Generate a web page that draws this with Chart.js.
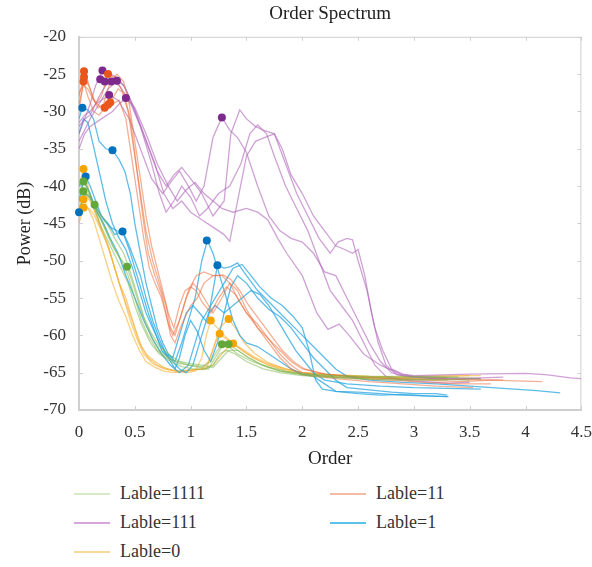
<!DOCTYPE html>
<html>
<head>
<meta charset="utf-8">
<script src="https://cdn.jsdelivr.net/npm/chart.js@4.4.1/dist/chart.umd.min.js"></script>
<style>
    body { margin: 0; background: #fff; width: 592px; height: 567px; overflow: hidden; position: relative;
           font-family: "Liberation Serif", "DejaVu Serif", serif; }
    #wrap { position: absolute; left: 0; top: 0; width: 592px; height: 470px; }
    #legend { position: absolute; left: 74px; top: 479px; display: grid;
              grid-template-columns: 256px 220px; grid-auto-rows: 29px; }
    .item { display: flex; align-items: center; font-size: 18px; color: #333; }
    .item .swatch { display: inline-block; width: 36px; height: 2px; margin-right: 10px; }
</style>
</head>
<body>
<div id="wrap"><canvas id="orderChart" width="592" height="470"></canvas></div>
<div id="legend"></div>
<script>
// order spectrum curves, [order, power dB]
const lable1111 = [
    [[0,-41],[0.04,-39.4],[0.08,-40.5],[0.13,-42.5],[0.18,-44],[0.24,-46],[0.3,-48],[0.36,-49.5],[0.43,-50.8],[0.48,-53],[0.54,-56],[0.6,-58.5],[0.66,-60.5],[0.72,-62],[0.8,-63],[0.9,-63.8],[1.0,-64],[1.1,-64.2],[1.18,-63.5],[1.24,-62],[1.28,-61.2],[1.34,-61.5],[1.42,-62.5],[1.55,-63.5],[1.7,-64.3],[1.85,-64.8],[2.0,-65.1],[2.3,-65.5],[2.6,-65.6],[2.9,-65.7],[3.2,-65.6],[3.6,-65.8]],
    [[0,-42],[0.04,-40.7],[0.09,-41.5],[0.14,-42.5],[0.2,-44.5],[0.26,-46.5],[0.32,-48.5],[0.38,-50],[0.44,-52],[0.5,-55],[0.56,-58],[0.62,-60],[0.7,-62],[0.78,-63],[0.88,-63.5],[0.98,-64],[1.08,-64.3],[1.16,-64.5],[1.22,-63],[1.28,-61.5],[1.34,-61.2],[1.42,-62],[1.52,-63],[1.65,-64],[1.8,-64.8],[2.0,-65.3],[2.3,-65.6],[2.6,-65.8],[2.9,-65.9],[3.2,-65.9],[3.5,-66]],
    [[0,-43],[0.04,-41.5],[0.08,-41],[0.14,-43],[0.2,-45.5],[0.28,-48],[0.36,-50.5],[0.44,-53],[0.5,-56],[0.56,-58.5],[0.64,-61],[0.72,-62.5],[0.82,-63.5],[0.92,-64.2],[1.02,-64.5],[1.12,-64.6],[1.2,-64],[1.26,-62.5],[1.32,-62],[1.4,-62.5],[1.5,-63.5],[1.65,-64.5],[1.8,-65],[2.0,-65.4],[2.3,-65.7],[2.6,-65.9],[2.9,-66],[3.3,-66]],
    [[0,-40],[0.03,-39],[0.07,-40],[0.12,-42],[0.18,-43.5],[0.25,-45],[0.32,-47],[0.4,-49],[0.46,-51.5],[0.52,-54.5],[0.58,-57.5],[0.64,-59.5],[0.72,-61.5],[0.8,-62.5],[0.9,-63.5],[1.0,-63.8],[1.1,-64],[1.2,-64.3],[1.28,-63],[1.34,-62],[1.42,-62],[1.52,-63],[1.64,-64],[1.8,-64.8],[2.0,-65.2],[2.3,-65.4],[2.6,-65.5],[3.0,-65.5],[3.4,-65.6]]
];

const lable11 = [
    [[0,-28],[0.03,-26],[0.05,-24.6],[0.08,-26],[0.12,-28],[0.17,-29.5],[0.22,-29],[0.28,-26],[0.34,-25],[0.4,-26],[0.45,-29],[0.5,-34],[0.55,-39],[0.6,-44],[0.65,-48],[0.7,-51],[0.75,-54],[0.8,-57],[0.85,-59],[0.9,-56],[0.95,-54],[1.0,-53.5],[1.05,-54],[1.1,-55.5],[1.18,-57],[1.25,-55],[1.32,-53.5],[1.4,-54.5],[1.5,-57],[1.6,-59],[1.7,-60.5],[1.8,-62],[1.9,-63.5],[2.0,-64.5],[2.2,-65.2],[2.5,-65.6],[2.8,-65.8],[3.1,-66],[3.4,-66.2],[3.7,-66],[4.15,-66.2]],
    [[0,-29],[0.03,-27],[0.05,-25.4],[0.1,-27],[0.15,-29],[0.2,-28],[0.26,-25],[0.32,-25.5],[0.38,-27],[0.44,-30],[0.5,-36],[0.55,-41],[0.6,-46],[0.66,-50],[0.72,-53],[0.78,-56],[0.82,-59],[0.86,-60],[0.92,-57],[0.98,-54],[1.05,-52],[1.12,-51.5],[1.2,-52],[1.28,-52],[1.35,-53],[1.42,-55],[1.5,-57],[1.6,-58.5],[1.7,-60.5],[1.8,-62.5],[1.9,-64],[2.0,-65],[2.2,-65.5],[2.5,-65.8],[2.8,-66],[3.1,-66.3],[3.4,-66.5],[3.69,-66.5]],
    [[0,-30],[0.04,-26],[0.08,-28],[0.13,-30],[0.18,-30.5],[0.23,-29.5],[0.3,-29],[0.36,-28.5],[0.42,-31],[0.48,-37],[0.53,-42],[0.58,-47],[0.63,-51],[0.68,-53],[0.74,-55],[0.8,-58.5],[0.84,-60],[0.9,-58],[0.96,-55],[1.02,-53],[1.08,-54],[1.14,-55.5],[1.2,-57],[1.28,-55],[1.35,-53],[1.42,-54],[1.5,-56.5],[1.6,-59],[1.7,-61],[1.8,-63],[1.9,-64.5],[2.0,-65.3],[2.3,-65.8],[2.6,-66.2],[2.9,-66.5],[3.2,-66.8],[3.53,-67]],
    [[0,-27.5],[0.04,-26.5],[0.08,-27],[0.13,-28.5],[0.2,-29.5],[0.28,-28.8],[0.35,-27],[0.4,-27.5],[0.46,-31],[0.52,-38],[0.58,-45],[0.62,-49],[0.68,-52],[0.74,-54.5],[0.78,-57],[0.82,-60],[0.86,-61],[0.92,-58.5],[1.0,-56],[1.06,-55],[1.12,-53],[1.2,-52],[1.29,-51.9],[1.36,-52.5],[1.44,-54],[1.52,-56],[1.62,-58],[1.72,-60],[1.82,-62],[1.92,-63.5],[2.02,-64.5],[2.2,-65.2],[2.5,-65.6],[2.8,-65.8],[3.1,-65.9],[3.4,-65.9],[3.8,-66]]
];

const lable111 = [
    [[0,-31.5],[0.05,-30.5],[0.1,-30],[0.15,-29],[0.2,-28.5],[0.27,-27.8],[0.35,-28.5],[0.45,-31],[0.55,-35],[0.65,-39],[0.75,-41],[0.82,-39.5],[0.9,-38],[0.98,-40],[1.05,-42],[1.12,-40],[1.2,-33.5],[1.28,-30.8],[1.35,-32.5],[1.42,-33.5],[1.5,-35.5],[1.6,-40],[1.7,-44],[1.8,-46],[1.9,-47],[2.0,-47.5],[2.1,-49],[2.2,-51.5],[2.3,-52],[2.4,-55],[2.5,-58],[2.6,-61],[2.7,-63.5],[2.8,-65],[2.9,-65.4],[3.0,-65.6],[3.2,-65.8],[3.4,-65.8],[3.6,-65.7],[3.8,-65.6]],
    [[0,-33],[0.05,-31],[0.1,-29],[0.15,-26.5],[0.21,-24.5],[0.28,-25],[0.35,-25.5],[0.42,-27],[0.5,-30],[0.6,-34],[0.7,-38],[0.78,-40],[0.85,-38.5],[0.92,-37.5],[1.0,-39],[1.1,-41],[1.2,-44],[1.3,-42],[1.36,-33],[1.44,-29.8],[1.5,-31],[1.58,-32],[1.65,-32.5],[1.75,-33],[1.85,-37],[1.95,-41],[2.05,-44],[2.15,-47],[2.25,-49],[2.32,-47.5],[2.4,-47],[2.45,-47.2],[2.5,-50],[2.58,-54],[2.65,-59],[2.72,-62],[2.8,-64.5],[2.9,-65.2],[3.0,-65.4],[3.5,-65.2],[4.0,-65.1],[4.2,-65.3],[4.4,-65.7],[4.5,-65.8]],
    [[0,-32],[0.05,-31],[0.1,-30.5],[0.18,-28],[0.24,-26.5],[0.29,-26],[0.36,-26.5],[0.45,-28.5],[0.55,-32],[0.65,-37],[0.72,-41],[0.78,-43.5],[0.85,-42],[0.92,-40],[1.0,-41.5],[1.08,-44],[1.15,-43],[1.25,-41],[1.35,-40],[1.45,-37],[1.53,-33],[1.6,-31.8],[1.68,-33],[1.75,-36],[1.85,-40],[1.95,-43],[2.05,-46],[2.15,-50],[2.25,-54],[2.35,-56],[2.45,-58],[2.55,-61],[2.65,-64],[2.75,-65.5],[2.9,-66],[3.1,-66.2],[3.3,-66.4],[3.5,-66.3]],
    [[0,-34],[0.05,-32.5],[0.1,-31],[0.18,-29],[0.26,-27],[0.34,-25.9],[0.4,-26.5],[0.48,-29],[0.58,-33],[0.68,-37],[0.76,-41],[0.84,-43],[0.92,-42],[1.0,-43.5],[1.1,-44.5],[1.2,-45.5],[1.3,-46.5],[1.35,-47.4],[1.42,-42],[1.5,-36],[1.58,-34],[1.66,-33.5],[1.75,-33],[1.82,-35],[1.9,-38.5],[2.0,-41],[2.1,-44],[2.2,-46],[2.3,-48],[2.38,-48.5],[2.45,-49],[2.5,-48.5],[2.56,-52],[2.62,-57],[2.68,-61],[2.75,-64],[2.85,-65.3],[3.0,-65.6],[3.2,-65.8],[3.4,-65.9],[3.6,-65.8]],
    [[0,-35],[0.05,-33],[0.1,-32],[0.2,-31],[0.3,-30],[0.36,-29],[0.42,-28.2],[0.5,-29.5],[0.6,-33],[0.7,-37],[0.8,-40],[0.88,-42],[0.96,-40.5],[1.04,-39.5],[1.12,-41],[1.2,-42],[1.28,-43],[1.38,-43.5],[1.5,-43],[1.6,-43.5],[1.69,-44.5],[1.78,-47],[1.86,-49],[2.0,-52],[2.13,-57],[2.23,-59.2],[2.33,-58.5],[2.42,-60],[2.55,-62.5],[2.7,-64],[2.88,-65.2],[3.0,-65.5],[3.3,-65.7],[3.6,-65.8]]
];

const lable1 = [
    [[0,-31],[0.03,-29.5],[0.08,-29.8],[0.13,-31],[0.18,-34],[0.24,-35],[0.3,-35.2],[0.36,-36.5],[0.41,-38],[0.46,-41],[0.5,-45],[0.55,-49],[0.6,-53],[0.65,-56],[0.7,-59],[0.75,-61],[0.8,-62.5],[0.86,-63.5],[0.92,-61],[0.98,-58],[1.04,-55],[1.1,-50],[1.15,-47.3],[1.2,-49],[1.26,-52],[1.32,-55],[1.38,-58],[1.44,-60],[1.5,-61],[1.6,-61.5],[1.7,-62.5],[1.8,-63.5],[1.9,-64.5],[2.0,-65.2],[2.1,-65.5],[2.2,-66.5],[2.3,-67.5],[2.5,-67.8],[2.7,-68],[2.9,-67.9],[3.1,-68.1],[3.31,-68.2]],
    [[0,-42],[0.03,-40],[0.06,-38.7],[0.1,-40],[0.15,-42],[0.2,-44],[0.26,-45],[0.32,-46.5],[0.39,-46],[0.45,-48],[0.5,-50],[0.55,-52],[0.6,-55],[0.66,-58],[0.72,-60.5],[0.78,-62.5],[0.84,-63],[0.9,-60],[0.96,-57],[1.02,-56],[1.08,-57],[1.15,-58.3],[1.2,-54],[1.24,-50.6],[1.3,-51],[1.36,-50.8],[1.42,-50.3],[1.5,-52],[1.6,-54],[1.7,-55.5],[1.8,-57],[1.9,-58.5],[2.0,-60],[2.1,-61.5],[2.2,-63],[2.3,-64.5],[2.4,-65.5],[2.6,-66],[2.9,-66.3],[3.2,-66.5],[3.5,-66.8],[3.8,-67.1],[4.1,-67.4],[4.31,-67.7]],
    [[0,-43.5],[0.05,-41],[0.1,-41.5],[0.16,-43],[0.22,-44.5],[0.28,-45.5],[0.34,-46],[0.39,-46.1],[0.45,-48.5],[0.5,-51],[0.56,-54],[0.62,-57],[0.68,-59.5],[0.74,-62],[0.8,-63],[0.86,-64.5],[0.9,-63],[0.95,-60],[1.0,-58],[1.06,-59.5],[1.12,-62],[1.18,-63.5],[1.24,-61],[1.3,-57],[1.36,-53.5],[1.42,-52],[1.5,-53],[1.6,-55],[1.7,-56.5],[1.8,-57.5],[1.9,-59],[2.0,-61],[2.1,-63],[2.2,-64.5],[2.3,-66],[2.4,-67],[2.6,-67.3],[2.8,-67.6],[3.0,-67.8],[3.2,-67.8],[3.3,-68]],
    [[0,-33],[0.04,-31],[0.08,-31.5],[0.12,-34],[0.18,-38],[0.24,-42],[0.3,-45],[0.36,-47],[0.42,-48.5],[0.48,-51],[0.54,-54],[0.6,-57],[0.66,-59],[0.72,-61],[0.78,-62.5],[0.84,-63.5],[0.9,-64.5],[0.96,-65],[1.02,-64],[1.1,-60],[1.16,-57],[1.22,-56],[1.3,-57],[1.38,-56],[1.46,-55],[1.54,-54],[1.62,-54.5],[1.7,-56],[1.78,-58],[1.86,-60],[1.94,-62],[2.02,-63.5],[2.1,-65],[2.2,-66],[2.4,-66.5],[2.7,-66.8],[3.0,-67],[3.3,-67.1],[3.6,-67.2]],
    [[0,-40],[0.05,-39.5],[0.1,-41],[0.16,-43.5],[0.22,-45],[0.28,-47],[0.35,-49],[0.42,-52],[0.5,-55],[0.58,-58],[0.66,-60.5],[0.74,-62.5],[0.82,-64],[0.9,-65],[0.98,-64],[1.04,-61],[1.1,-58],[1.16,-56.5],[1.22,-55],[1.3,-53],[1.38,-51],[1.46,-50.5],[1.54,-52],[1.62,-53.5],[1.72,-55],[1.82,-56],[1.92,-57.5],[2.0,-59],[2.06,-62],[2.12,-66],[2.18,-67.2],[2.3,-67.5],[2.5,-67.6],[2.7,-67.8],[2.9,-68],[3.1,-68.1],[3.3,-68.2]]
];

const lable0 = [
    [[0,-40],[0.04,-37.7],[0.08,-40],[0.12,-42.5],[0.18,-45],[0.25,-47.5],[0.3,-50],[0.36,-53],[0.42,-55],[0.48,-58],[0.54,-61],[0.6,-62.5],[0.68,-63.5],[0.76,-64.3],[0.86,-64.8],[0.96,-65],[1.04,-64.8],[1.1,-63],[1.14,-60],[1.18,-58],[1.24,-59],[1.3,-60],[1.38,-61.1],[1.46,-62],[1.56,-63],[1.7,-64],[1.85,-64.6],[2.0,-65],[2.3,-65.3],[2.6,-65.5],[2.9,-65.6],[3.2,-65.6],[3.5,-65.4]],
    [[0,-43],[0.04,-41.8],[0.08,-43],[0.13,-44.5],[0.18,-47],[0.24,-50],[0.3,-53],[0.36,-55.5],[0.42,-57.5],[0.48,-60],[0.54,-62],[0.6,-63.5],[0.68,-64.3],[0.76,-64.8],[0.86,-65],[0.96,-64.8],[1.06,-64.6],[1.14,-64.5],[1.2,-62],[1.26,-59],[1.34,-57.8],[1.4,-59],[1.48,-61],[1.58,-62.5],[1.7,-63.7],[1.85,-64.5],[2.0,-65],[2.3,-65.3],[2.6,-65.5],[2.9,-65.6],[3.2,-65.4],[3.6,-65.4]],
    [[0,-45],[0.04,-42.9],[0.09,-43],[0.14,-44],[0.2,-46],[0.26,-48],[0.32,-51],[0.38,-54],[0.44,-56.5],[0.5,-59],[0.56,-61.5],[0.62,-63],[0.7,-64],[0.8,-64.6],[0.9,-64.8],[1.0,-64.7],[1.1,-64.5],[1.16,-63.5],[1.22,-61],[1.26,-59.8],[1.32,-60.5],[1.38,-61.1],[1.46,-62],[1.56,-63],[1.7,-64],[1.85,-64.8],[2.0,-65.2],[2.3,-65.6],[2.6,-65.7],[2.9,-65.8],[3.3,-65.8]],
    [[0,-42],[0.04,-41],[0.1,-42],[0.16,-44],[0.22,-46.5],[0.28,-49],[0.34,-52],[0.4,-55],[0.46,-58],[0.52,-60.5],[0.58,-62.5],[0.66,-63.8],[0.76,-64.5],[0.88,-64.8],[1.0,-64.6],[1.1,-64.5],[1.2,-64],[1.28,-62.5],[1.34,-61.5],[1.38,-61.1],[1.46,-61.8],[1.56,-62.8],[1.7,-63.8],[1.85,-64.5],[2.0,-65],[2.3,-65.4],[2.6,-65.6],[3.0,-65.7],[3.3,-65.6]]
];

// detected peaks (filled dots)
const peaks1111 = [[0.04,-39.4],[0.04,-40.7],[0.14,-42.5],[0.43,-50.8],[1.28,-61.2],[1.34,-61.2]];
const peaks11   = [[0.045,-24.6],[0.045,-25.4],[0.04,-26],[0.26,-25],[0.26,-29.1],[0.28,-28.8],[0.23,-29.5]];
const peaks111  = [[0.21,-24.5],[0.19,-25.7],[0.23,-26],[0.29,-26],[0.34,-25.9],[0.27,-27.8],[0.42,-28.2],[1.28,-30.8]];
const peaks1    = [[0.03,-29.5],[0.3,-35.2],[0.06,-38.7],[0.39,-46.1],[1.145,-47.3],[1.24,-50.6],[0,-43.5]];
const peaks0    = [[0.04,-37.7],[0.04,-41.8],[0.04,-42.9],[1.18,-58],[1.34,-57.8],[1.26,-59.8],[1.38,-61.1]];

const groups = [
    { label: 'Lable=1111', curves: lable1111, peaks: peaks1111, line: 'rgba(120,180,70,0.5)',   dot: '#62a83a', key: '#d6eac8' },
    { label: 'Lable=11',   curves: lable11,   peaks: peaks11,   line: 'rgba(235,110,60,0.55)',  dot: '#e8561c', key: '#f4bca4' },
    { label: 'Lable=111',  curves: lable111,  peaks: peaks111,  line: 'rgba(175,100,185,0.6)',  dot: '#7e2a8c', key: '#d8a4dc' },
    { label: 'Lable=1',    curves: lable1,    peaks: peaks1,    line: 'rgba(40,165,225,0.75)',  dot: '#0072bd', key: '#5cc2ea' },
    { label: 'Lable=0',    curves: lable0,    peaks: peaks0,    line: 'rgba(245,175,50,0.6)',   dot: '#f5a500', key: '#f6d898' }
];

const xTicks = { min: 0, max: 4.5, step: 0.5 };
const yTicks = { min: -70, max: -20, step: 5 };

const boxPlugin = {
    id: 'box',
    beforeDatasetsDraw(chart) {
        const { ctx, chartArea: a, scales: { x, y } } = chart;
        ctx.save();
        ctx.strokeStyle = '#cfcfcf';
        ctx.lineWidth = 1;
        ctx.beginPath();
        ctx.moveTo(a.left, a.top + 0.5); ctx.lineTo(a.right, a.top + 0.5);
        ctx.moveTo(a.right - 0.5, a.top); ctx.lineTo(a.right - 0.5, a.bottom);
        x.ticks.forEach(t => {
            const p = Math.round(x.getPixelForValue(t.value)) + 0.5;
            ctx.moveTo(p, a.bottom); ctx.lineTo(p, a.bottom - 4);
            ctx.moveTo(p, a.top); ctx.lineTo(p, a.top + 4);
        });
        y.ticks.forEach(t => {
            const p = Math.round(y.getPixelForValue(t.value)) + 0.5;
            ctx.moveTo(a.left, p); ctx.lineTo(a.left + 4, p);
            ctx.moveTo(a.right, p); ctx.lineTo(a.right - 4, p);
        });
        ctx.stroke();
        ctx.restore();
    }
};

const datasets = [];
groups.forEach(g => {
    datasets.push({ data: g.peaks, pointRadius: 4, pointBackgroundColor: g.dot, pointBorderWidth: 0,
                    showLine: false, order: 0, clip: 6 });
    g.curves.forEach(c => {
        datasets.push({ data: c, borderColor: g.line, borderWidth: 1.3, pointRadius: 0,
                        showLine: true, tension: 0, fill: false, order: 1 });
    });
});

const serif = '"Liberation Serif", "DejaVu Serif", serif';

new Chart(document.getElementById('orderChart'), {
    type: 'scatter',
    data: { datasets },
    options: {
        responsive: false,
        animation: false,
        events: [],
        layout: { padding: { left: 0, right: 0, top: 0, bottom: 0 } },
        plugins: {
            legend: { display: false },
            tooltip: { enabled: false },
            title: { display: true, fullSize: false, text: 'Order Spectrum', color: '#222',
                     font: { family: serif, size: 19, weight: 'normal' }, padding: { top: 3, bottom: 11 } }
        },
        scales: {
            x: {
                type: 'linear', min: xTicks.min, max: xTicks.max,
                ticks: { stepSize: xTicks.step, color: '#333', padding: 0, font: { family: serif, size: 17 },
                         callback: v => String(v) },
                // invisible tick marks only push the labels down
                grid: { display: true, drawOnChartArea: false, drawTicks: true, tickLength: 12, tickColor: 'rgba(0,0,0,0)' },
                border: { color: '#cfcfcf', width: 2 },
                title: { display: true, text: 'Order', color: '#222', font: { family: serif, size: 19 }, padding: { top: 0, bottom: 0 } },
                afterFit: s => { s.height = 60; }
            },
            y: {
                min: yTicks.min, max: yTicks.max,
                ticks: { stepSize: yTicks.step, color: '#333', padding: 13, font: { family: serif, size: 17 },
                         callback: v => String(v) },
                grid: { display: true, drawOnChartArea: false, drawTicks: false },
                border: { color: '#cfcfcf', width: 2 },
                title: { display: true, text: 'Power (dB)', color: '#222', font: { family: serif, size: 18 }, padding: { top: 14, bottom: 0 } },
                afterFit: s => { s.width = 79; }
            }
        }
    },
    plugins: [boxPlugin]
});

const legend = document.getElementById('legend');
groups.forEach(g => {
    const item = document.createElement('div');
    item.className = 'item';
    const sw = document.createElement('span');
    sw.className = 'swatch';
    sw.style.background = g.key;
    item.appendChild(sw);
    item.appendChild(document.createTextNode(g.label));
    legend.appendChild(item);
});
</script>
</body>
</html>
